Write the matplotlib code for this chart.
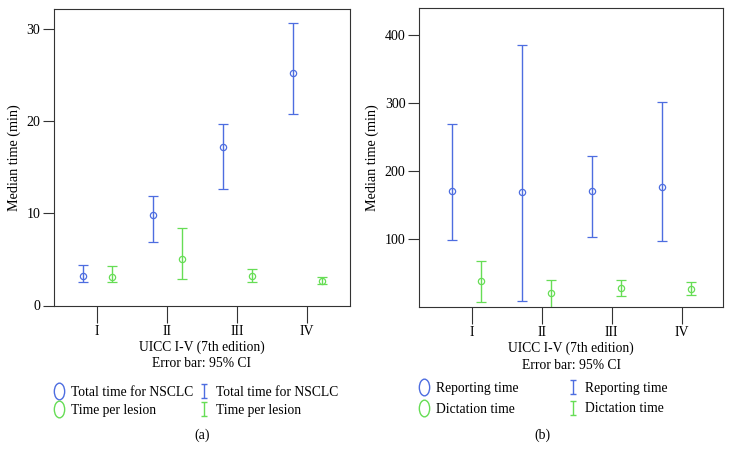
import numpy as np
import matplotlib
matplotlib.use("Agg")
import matplotlib.pyplot as plt
from matplotlib.lines import Line2D
from matplotlib.path import Path

plt.rcParams['font.family'] = ['Liberation Serif', 'DejaVu Serif']

# datos
stages = ['I', 'II', 'III', 'IV']

# (a) tiempo total NSCLC y tiempo por lesion
total_med = [3.2, 9.8, 17.2, 25.3]
total_lo = [2.6, 6.95, 12.7, 20.75]
total_hi = [4.45, 11.9, 19.7, 30.65]
lesion_med = [3.1, 5.1, 3.25, 2.65]
lesion_lo = [2.5, 2.9, 2.55, 2.35]
lesion_hi = [4.3, 8.4, 4.0, 3.1]

# (b) tiempo de informe y de dictado
report_med = [171, 169, 171, 177]
report_lo = [99, 10, 103, 98]
report_hi = [269, 385, 222, 301]
dict_med = [39, 21, 29.5, 28]
dict_lo = [8, 0, 17, 18]
dict_hi = [69, 41, 41, 38]

BLUE = '#4d6de0'
GREEN = '#66dd55'

fig = plt.figure(figsize=(7.32, 4.62), dpi=100)
W, H = 732.0, 462.0
ax1 = fig.add_axes([54 / W, (H - 305.5) / H, 296 / W, 296.5 / H])
ax2 = fig.add_axes([419.3 / W, (H - 307) / H, 304 / W, 298.7 / H])

x = np.arange(len(stages))


def draw_series(ax, xs, med, lo, hi, color):
    med = np.array(med, dtype=float)
    yerr = [med - np.array(lo), np.array(hi) - med]
    ax.errorbar(xs, med, yerr=yerr, fmt='o', color=color, mfc='none',
                mec=color, ms=4.5, mew=0.9, elinewidth=1.0, capsize=3.5,
                capthick=1.0)


draw_series(ax1, x - 0.2, total_med, total_lo, total_hi, BLUE)
draw_series(ax1, x + 0.21, lesion_med, lesion_lo, lesion_hi, GREEN)
ax1.set_xlim(-0.614, 3.614)
ax1.set_ylim(0, 32.2)
ax1.set_yticks([0, 10, 20, 30])

draw_series(ax2, x - 0.28, report_med, report_lo, report_hi, BLUE)
draw_series(ax2, x + 0.13, dict_med, dict_lo, dict_hi, GREEN)
ax2.set_xlim(-0.749, 3.594)
ax2.set_ylim(1, 439)
ax2.set_yticks([100, 200, 300, 400])

for ax in (ax1, ax2):
    ax.set_xticks(x)
    ax.set_xticklabels(stages, fontsize=10)
    ax.tick_params(axis='x', length=12, width=0.8, color='#333333', pad=2)
    ax.tick_params(axis='y', length=8, width=0.8, color='#333333',
                   labelsize=10, pad=2)
    for s in ax.spines.values():
        s.set_color('#333333')
        s.set_linewidth(0.8)
    ax.set_ylabel('Median time (min)', fontsize=10.2, labelpad=4)
    ax.set_xlabel('UICC I-V (7th edition)\nError bar: 95% CI', fontsize=9.8,
                  labelpad=1.5, linespacing=1.35)

# marcadores de la leyenda: ovalo y barra "I"
oval = Path.unit_circle().transformed(
    matplotlib.transforms.Affine2D().scale(0.62, 1.0))
ibar = Path([(-0.5, -1), (0.5, -1), (0, -1), (0, 1), (-0.5, 1), (0.5, 1)],
            [Path.MOVETO, Path.LINETO, Path.MOVETO, Path.LINETO,
             Path.MOVETO, Path.LINETO])


def legend_handles(color):
    h_o = Line2D([], [], ls='none', marker=oval, ms=12, mfc='none',
                 mec=color, mew=1.0)
    h_i = Line2D([], [], ls='none', marker=ibar, ms=10, mfc='none',
                 mec=color, mew=1.0)
    return h_o, h_i


b_o, b_i = legend_handles(BLUE)
g_o, g_i = legend_handles(GREEN)

leg_kw = dict(loc='upper left', frameon=False, fontsize=9.8,
              handlelength=1.0, handletextpad=0.4, labelspacing=0.35,
              borderpad=0)

# panel (a): dos columnas
fig.legend([b_o, g_o], ['Total time for NSCLC', 'Time per lesion'],
           bbox_to_anchor=(45 / W, 1 - 379 / H), **leg_kw)
fig.legend([b_i, g_i], ['Total time for NSCLC', 'Time per lesion'],
           bbox_to_anchor=(190 / W, 1 - 379 / H), **leg_kw)
# panel (b)
fig.legend([b_o, g_o], ['Reporting time', 'Dictation time'],
           bbox_to_anchor=(410 / W, 1 - 375 / H),
           **dict(leg_kw, labelspacing=0.6))
fig.legend([b_i, g_i], ['Reporting time', 'Dictation time'],
           bbox_to_anchor=(559 / W, 1 - 375 / H),
           **dict(leg_kw, labelspacing=0.55))

fig.text(202 / W, 1 - 435 / H, '(a)', ha='center', va='center', fontsize=10)
fig.text(542 / W, 1 - 435 / H, '(b)', ha='center', va='center', fontsize=10)

fig.savefig('out.png', dpi=100)
